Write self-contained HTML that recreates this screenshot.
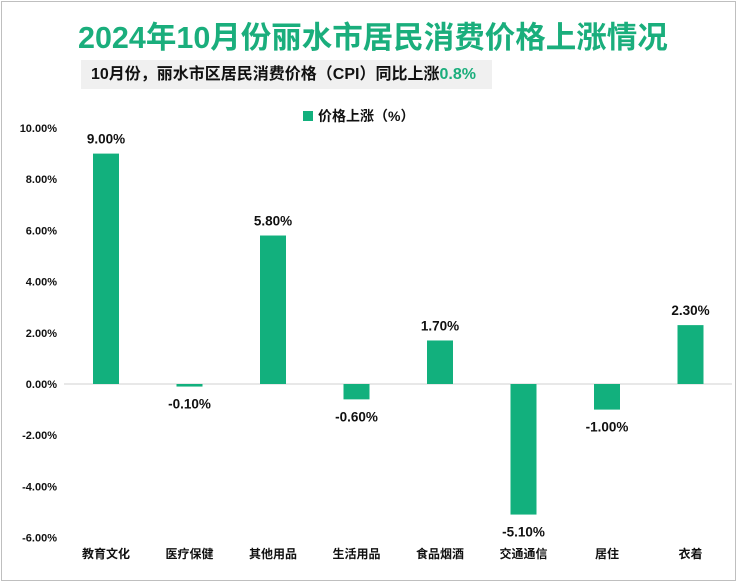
<!DOCTYPE html>
<html><head><meta charset="utf-8"><style>
body{margin:0;width:737px;height:582px;background:#fff;overflow:hidden;font-family:"Liberation Sans","Noto Sans CJK SC",sans-serif;}
#frame{position:absolute;left:1px;top:1px;width:733px;height:578px;border:1px solid #bfbfbf;}
#title{position:absolute;left:78px;top:13px;font-size:30.5px;font-weight:bold;color:#1aae7c;white-space:nowrap;}
#sub{position:absolute;left:81px;top:60px;width:411px;height:29px;background:#f0f0f0;font-size:16px;font-weight:bold;color:#111;line-height:29px;padding-left:10px;box-sizing:border-box;white-space:nowrap;}
#sub span{color:#1aae7c;}
</style></head><body>
<div id="frame"></div>
<div id="title">2024年10月份丽水市居民消费价格上涨情况</div>
<div id="sub">10月份，丽水市区居民消费价格（CPI）同比上涨<span>0.8%</span></div>
<svg id="chart" width="737" height="582" style="position:absolute;left:0;top:0"></svg>
<script>
const categories=["教育文化","医疗保健","其他用品","生活用品","食品烟酒","交通通信","居住","衣着"];
const values=[9.0,-0.1,5.8,-0.6,1.7,-5.1,-1.0,2.3];
const ticks=[10,8,6,4,2,0,-2,-4,-6];
const NS="http://www.w3.org/2000/svg";
const svg=document.getElementById('chart');
const y=v=>384-v*25.6;
const x=i=>106+i*83.5;
const F='"Liberation Sans","Noto Sans CJK SC",sans-serif';
function mk(t,a,txt){const e=document.createElementNS(NS,t);for(const k in a)e.setAttribute(k,a[k]);if(txt!=null)e.textContent=txt;svg.appendChild(e);return e;}
ticks.forEach(t=>{const e=mk('text',{x:57,y:y(t)+4,'text-anchor':'end','font-size':11,'font-weight':'bold','font-family':F,fill:'#111'},t.toFixed(2)+'%');

});
const ax=mk('line',{x1:64,x2:732,y1:y(0),y2:y(0),stroke:'#d0d0d0','stroke-width':1});


values.forEach((v,i)=>{
const top=Math.min(y(v),y(0)),h=Math.abs(y(v)-y(0));
const r=mk('rect',{x:x(i)-13,y:top,width:26,height:Math.max(h,1),fill:'#12b07d'});


const ly=v>=0?y(v)-10:y(v)+22;
const l=mk('text',{x:x(i),y:ly,'text-anchor':'middle','font-size':13.5,'font-weight':'bold','font-family':F,fill:'#111'},v.toFixed(2)+'%');


const c=mk('text',{x:x(i),y:558,'text-anchor':'middle','font-size':12,'font-weight':'bold','font-family':F,fill:'#111'},categories[i]);


});
const lg=mk('rect',{x:303,y:111,width:10,height:10,fill:'#12b07d'});


const lt=mk('text',{x:318,y:121,'font-size':14,'font-weight':'bold','font-family':F,fill:'#111'},'价格上涨（%）');


</script>
</body></html>
